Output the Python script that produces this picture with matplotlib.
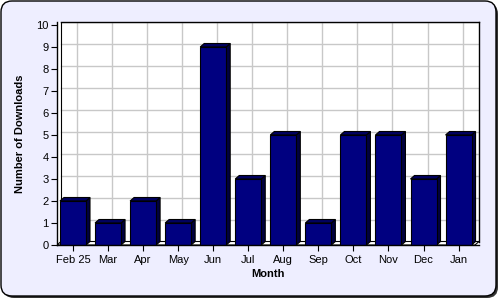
import matplotlib
matplotlib.use("Agg")
import matplotlib.pyplot as plt
from matplotlib.patches import FancyBboxPatch, Polygon
import numpy as np

months = ["Feb 25", "Mar", "Apr", "May", "Jun", "Jul", "Aug", "Sep", "Oct", "Nov", "Dec", "Jan"]
downloads = [2, 1, 2, 1, 9, 3, 5, 1, 5, 5, 3, 5]

plt.rcParams['font.family'] = ['Liberation Sans', 'DejaVu Sans']

W, H = 500, 300
fig = plt.figure(figsize=(5, 3), dpi=100)
fig.patch.set_facecolor('white')

# background panel in pixel coords
bg = fig.add_axes([0, 0, 1, 1], zorder=0)
bg.set_xlim(0, W)
bg.set_ylim(H, 0)
bg.axis('off')
bg.add_patch(FancyBboxPatch((3, 3), 495, 295, boxstyle="round,pad=0,rounding_size=11",
                            facecolor='#333333', edgecolor='none'))
bg.add_patch(FancyBboxPatch((1, 1), 495, 295, boxstyle="round,pad=0,rounding_size=11",
                            facecolor='#EEEEFF', edgecolor='black', lw=1))

# plot area in pixels
left, right = 57, 479
top, bottom = 22, 245
ax = fig.add_axes([left / W, 1 - bottom / H, (right - left) / W, (bottom - top) / H], zorder=2)
ax.set_facecolor('white')
n = len(months)
x = np.arange(n)
slot = 35.05
x_lo = (left - 73) / slot
x_hi = (right - 73) / slot
ax.set_xlim(x_lo, x_hi)
unit = (245 - 25) / 10.0
y_hi = 10 + 3 / unit
ax.set_ylim(0, y_hi)

dx, dy = 4 / slot, 3.5 / unit  # 3d depth offsets

# back wall grid
for v in range(1, 11):
    ax.plot([x_lo + dx, x_hi], [v + dy, v + dy], color='#C8C8C8', lw=1, zorder=1)
for xi in x:
    ax.plot([xi + dx, xi + dx], [dy, y_hi], color='#C8C8C8', lw=1, zorder=1)

# floor and left wall edge
ax.add_patch(Polygon([(x_lo, 0), (x_lo + dx, dy), (x_hi, dy), (x_hi - dx, 0)],
                     closed=True, facecolor='white', edgecolor='black', lw=0.8, zorder=2))
ax.plot([x_lo + dx, x_lo + dx], [dy, y_hi], color='black', lw=0.8, zorder=2)

# bars with 3d top and side
bw = 26 / slot
for xi, v in zip(x, downloads):
    x0, x1 = xi - bw / 2, xi + bw / 2
    ax.add_patch(Polygon([(x1, 0), (x1 + dx, dy), (x1 + dx, v + dy), (x1, v)],
                         closed=True, facecolor='#000040', edgecolor='black', lw=0.8, zorder=3))
    ax.add_patch(Polygon([(x0, v), (x0 + dx, v + dy), (x1 + dx, v + dy), (x1, v)],
                         closed=True, facecolor='#000060', edgecolor='black', lw=0.8, zorder=3))
ax.bar(x, downloads, width=bw, color='#000080', edgecolor='black', lw=0.8, zorder=4)

for s in ax.spines.values():
    s.set_linewidth(1)
    s.set_zorder(5)
ax.spines['right'].set_bounds(dy, y_hi)
ax.spines['top'].set_bounds(x_lo + dx, x_hi)

ax.set_yticks(range(0, 11))
ax.set_xticks(x)
ax.set_xticklabels(months)
ax.tick_params(axis='both', labelsize=8, length=4, width=0.8, color='black', pad=2)
ax.tick_params(axis='x', pad=3)

ax.set_xlabel("Month", fontsize=8, fontweight='bold', labelpad=3)
ax.set_ylabel("Number of Downloads", fontsize=8, fontweight='bold')
ax.yaxis.set_label_coords((25 - left) / (right - left), 0.5)

fig.savefig("out.png", dpi=100, facecolor=fig.get_facecolor())
